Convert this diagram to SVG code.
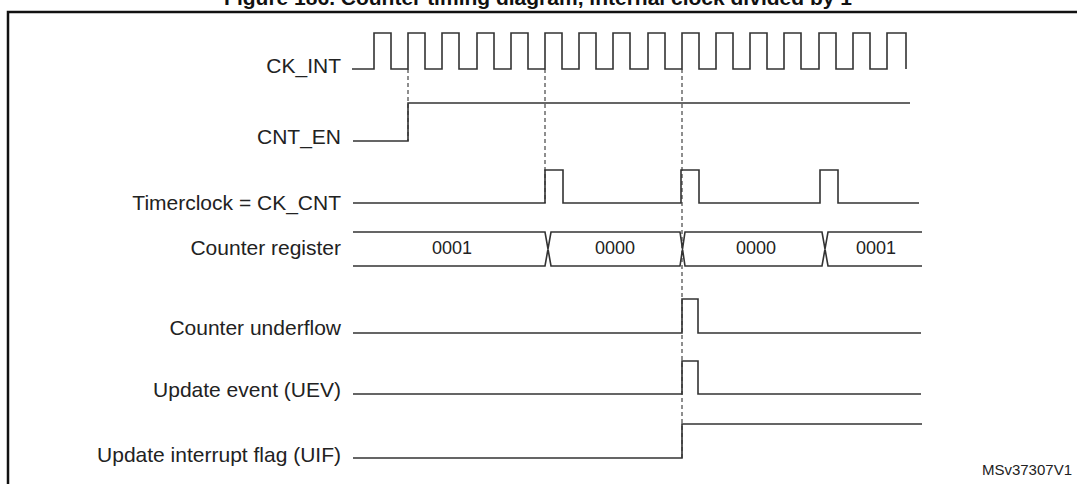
<svg xmlns="http://www.w3.org/2000/svg" width="1077" height="484" viewBox="0 0 1077 484">
<style>
.w{fill:none;stroke:#333;stroke-width:1.6}
.d{fill:none;stroke:#444;stroke-width:1.2;stroke-dasharray:4,3}
.l{font-family:"Liberation Sans",Arial,sans-serif;font-size:21px;fill:#222;text-anchor:end}
.v{font-family:"Liberation Sans",Arial,sans-serif;font-size:18px;fill:#222;text-anchor:middle}
</style>
<rect width="1077" height="484" fill="#fff"/>
<text x="538" y="5" style="font-family:'Liberation Sans',Arial,sans-serif;font-size:21px;font-weight:bold;fill:#111" text-anchor="middle">Figure 186. Counter timing diagram, internal clock divided by 1</text>
<path d="M8,484 V12 H1077" fill="none" stroke="#111" stroke-width="2.5"/>
<g id="connectors">
<line class="d" x1="408" y1="69" x2="408" y2="141"/>
<line class="d" x1="545" y1="69" x2="545" y2="203"/>
<line class="d" x1="682" y1="69" x2="682" y2="458"/>
</g>
<g id="ck_int">
<text class="l" x="341" y="73">CK_INT</text>
<path class="w" d="M352,69 H374 V33 H391 V69 H408 V33 H425 V69 H442 V33 H459 V69 H477 V33 H494 V69 H511 V33 H528 V69 H545 V33 H562 V69 H579 V33 H596 V69 H613 V33 H630 V69 H648 V33 H665 V69 H682 V33 H699 V69 H716 V33 H733 V69 H750 V33 H767 V69 H784 V33 H801 V69 H819 V33 H836 V69 H853 V33 H870 V69 H887 V33 H906 V69"/>
</g>
<g id="cnt_en">
<text class="l" x="341" y="144">CNT_EN</text>
<path class="w" d="M353,141 H408 V103 H910"/>
</g>
<g id="timerclock">
<text class="l" x="341" y="210">Timerclock = CK_CNT</text>
<path class="w" d="M353,203 H545 V170 H563 V203 H681 V170 H699 V203 H820 V170 H838 V203 H919"/>
</g>
<g id="counter_register">
<text class="l" x="341" y="255">Counter register</text>
<path class="w" d="M353,232 H545 L551,266 H680 L685,232 H822 L828,266 H922 M353,266 H545 L551,232 H680 L685,266 H822 L828,232 H922"/>
<text class="v" x="452" y="254">0001</text>
<text class="v" x="615" y="254">0000</text>
<text class="v" x="756" y="254">0000</text>
<text class="v" x="876" y="254">0001</text>
</g>
<g id="counter_underflow">
<text class="l" x="341" y="335">Counter underflow</text>
<path class="w" d="M353,333 H682 V299 H698 V333 H921"/>
</g>
<g id="uev">
<text class="l" x="341" y="397">Update event (UEV)</text>
<path class="w" d="M353,394 H682 V361 H698 V394 H921"/>
</g>
<g id="uif">
<text class="l" x="341" y="462">Update interrupt flag (UIF)</text>
<path class="w" d="M353,458 H682 V424 H922"/>
</g>
<text x="1072" y="475" style="font-family:'Liberation Sans',Arial,sans-serif;font-size:15px;fill:#222" text-anchor="end">MSv37307V1</text>
</svg>
